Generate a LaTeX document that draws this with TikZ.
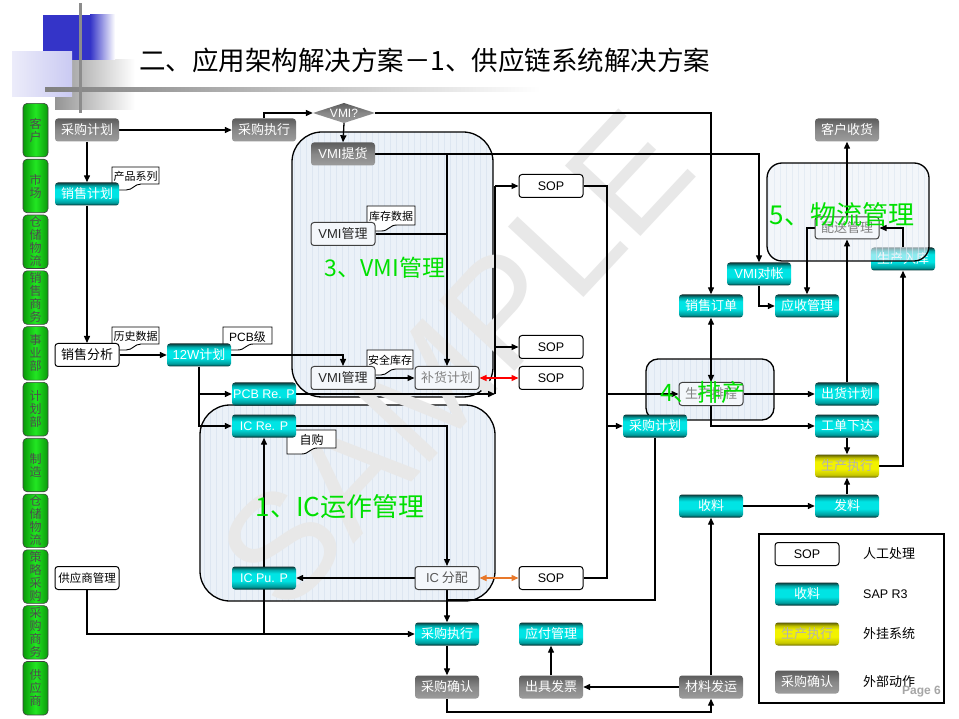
\documentclass[tikz,border=0pt]{standalone}
\usepackage{fontspec}
\setmainfont{Noto Sans CJK SC}
\newfontfamily\lat{Liberation Sans}
\usetikzlibrary{arrows.meta}
\definecolor{cyBot}{HTML}{002626}
\definecolor{cyLow}{HTML}{009C9C}
\definecolor{cyMid}{HTML}{00E4E4}
\definecolor{cyHi}{HTML}{00A8A8}
\definecolor{cyTop}{HTML}{0C3434}
\definecolor{gyBot}{HTML}{9C9C9C}
\definecolor{gyMid}{HTML}{888888}
\definecolor{gyTop}{HTML}{5C5C5C}
\definecolor{ywBot}{HTML}{6E6E00}
\definecolor{ywLow}{HTML}{C8C800}
\definecolor{ywMid}{HTML}{F2F200}
\definecolor{ywHi}{HTML}{BEBE00}
\definecolor{ywTop}{HTML}{5A5A00}
\definecolor{regfill}{HTML}{EBF1F8}
\definecolor{gridc}{HTML}{DDE6F1}
\definecolor{gtext}{HTML}{00E000}
\definecolor{hdrblue}{HTML}{3434C8}
\definecolor{lavR}{HTML}{CACAF2}
\definecolor{lavL}{HTML}{ECECFA}
\definecolor{tabmid}{HTML}{22E622}
\definecolor{tabedge}{HTML}{0A9A0A}
\definecolor{orangeA}{HTML}{E8782A}
\definecolor{ibfill}{HTML}{F4F7FB}
\pgfdeclareverticalshading{cyanS}{100bp}{color(0bp)=(cyBot); color(25bp)=(cyBot); color(31bp)=(cyLow); color(44bp)=(cyMid); color(60bp)=(cyMid); color(68bp)=(cyHi); color(75bp)=(cyTop); color(100bp)=(cyTop)}
\pgfdeclareverticalshading{grayS}{100bp}{color(0bp)=(gyBot); color(25bp)=(gyBot); color(50bp)=(gyMid); color(75bp)=(gyTop); color(100bp)=(gyTop)}
\pgfdeclareverticalshading{yelS}{100bp}{color(0bp)=(ywBot); color(25bp)=(ywBot); color(31bp)=(ywLow); color(44bp)=(ywMid); color(60bp)=(ywMid); color(68bp)=(ywHi); color(75bp)=(ywTop); color(100bp)=(ywTop)}
\pgfdeclarelayer{bgA}
\pgfdeclarelayer{bgB}
\pgfdeclarelayer{edges}
\pgfdeclarelayer{fgl}
\pgfsetlayers{bgA,bgB,edges,main,fgl}
\newcommand\regionbox[6]{%
  \begin{scope}
    \clip[rounded corners=#5] (#1,#2) rectangle (#3,#4);
    \fill[regfill,fill opacity=#6] (#1,#2) rectangle (#3,#4);
    \draw[gridc,line width=0.25pt,step=6,draw opacity=#6] (#1,#2) grid (#3,#4);
  \end{scope}
  \draw[region,rounded corners=#5] (#1,#2) rectangle (#3,#4);}
\newcommand\docnote[6]{%
  \draw[notebox] (#2,#3) -- (#4,#3) -- (#4,{#5-6}) -- ({#2+0.62*(#4-#2)},{#5-6}) .. controls ({#2+0.47*(#4-#2)},{#5-6}) and ({#2+0.45*(#4-#2)},#5) .. ({#2+0.3*(#4-#2)},#5) -- (#2,#5) -- cycle;
  \node[notetext] (#1) at ({(#2+#4)/2},{#3+(#5-#3-4)/2}) {#6};}
\begin{document}
\begin{tikzpicture}[x=1pt,y=-1pt,
  >={Triangle[length=7pt,width=6pt]},
  box/.style={rounded corners=3pt,minimum width=64,minimum height=23,inner sep=0pt,font=\fontsize{13}{15}\selectfont},
  gbox/.style={box,shade,shading=grayS,text=white},
  cbox/.style={box,shade,shading=cyanS,text=white},
  ybox/.style={box,shade,shading=yelS,text=black!30},
  sbox/.style={box,draw=black,line width=1pt,fill=white,text=black},
  ibox/.style={box,draw=black!75,line width=1pt,fill=ibfill,text=black!50},
  latf/.style={font={\lat\fontsize{12.5}{15}\selectfont}},
  conn/.style={line width=1.3pt,draw=black},
  arr/.style={conn,->},
  region/.style={draw=black,line width=1.3pt},
  tabbox/.style={rounded corners=4pt,draw=black!75,line width=0.6pt,minimum width=25,minimum height=53.5,inner sep=0pt,left color=tabedge,right color=tabedge,middle color=tabmid,font=\fontsize{12}{13}\selectfont,text=black!70,align=center},
  glabel/.style={text=gtext,inner sep=0pt},
  notebox/.style={draw=black,line width=0.9pt,fill=white},
  notetext/.style={inner sep=0pt,font=\fontsize{11}{12}\selectfont},
]
\useasboundingbox (0,0) rectangle (959,719);
% ---------------- background: header ----------------
\begin{pgfonlayer}{bgA}
  \fill[white] (0,0) rectangle (959,719);
  \shade[left color=black!42,right color=white] (55,60) rectangle (135,110);
  \fill[hdrblue] (43,15) rectangle (90,60);
  \shade[left color=hdrblue,right color=white] (90,15) rectangle (115,60);
  \shade[left color=lavL,right color=lavR] (12,52) rectangle (72,97);
  \shade[left color=black!50,right color=white] (45,88) rectangle (540,92);
  \fill[black!45] (79,3) rectangle (82,113);
  \node[cbox] (scrk) at (903,259) {生产入库};
\end{pgfonlayer}
% ---------------- regions + watermark ----------------
\begin{pgfonlayer}{bgB}
  \regionbox{292}{132}{493}{397}{30pt}{1}
  \regionbox{200}{405}{495}{601}{30pt}{1}
  \regionbox{646}{359}{774}{420}{12pt}{1}
  \regionbox{767}{163}{929}{261}{15pt}{0.6}
  \node[rotate=47,text=black!9,inner sep=0pt,font={\lat\fontsize{150}{150}\selectfont}] (wm) at (455,360) {SAMPLE};
\end{pgfonlayer}
% ---------------- title ----------------
\node[anchor=west,inner sep=0pt,font=\fontsize{26.5}{30}\selectfont] (title) at (139,60) {二、应用架构解决方案－1、供应链系统解决方案};
% ---------------- left tabs ----------------
\foreach \t [count=\i from 0] in {{客\\户},{市\\场},{仓\\储\\物\\流},{销\\售\\商\\务},{事\\业\\部},{计\\划\\部},{制\\造},{仓\\储\\物\\流},{策\\略\\采\\购},{采\\购\\商\\务},{供\\应\\商}}
  \node[tabbox] (tab\i) at (35.5,{103+55.8*\i+27.2}) {\t};
% ---------------- notes ----------------
\docnote{nt1}{112}{167}{159}{190}{产品系列}
\docnote{nt2}{367}{206}{415}{231}{库存数据}
\docnote{nt3}{112}{327}{159}{350}{历史数据}
\docnote{nt4}{223}{327}{272}{350}{{\lat\fontsize{12}{12}\selectfont PCB}{\fontsize{12}{12}\selectfont 级}}
\docnote{nt5}{367}{350}{413}{375}{安全库存}
\docnote{nt6}{287}{430}{336}{454}{{\fontsize{12}{12}\selectfont 自购}}
% ---------------- nodes ----------------
\node[gbox] (pj) at (87,130) {采购计划};
\node[gbox] (pe) at (264,130) {采购执行};
\shade[shading=grayS] (313,113) -- (344,103) -- (375,113) -- (344,123) -- cycle;
\node[minimum width=62,minimum height=20,inner sep=0pt,text=white,font={\lat\fontsize{12}{12}\selectfont}] (vmiq) at (344,113) {VMI?};
\node[gbox] (vth) at (343,154) {{\lat VMI}提货};
\node[gbox] (khsh) at (847,130) {客户收货};
\node[gbox] (cgqr) at (447,687) {采购确认};
\node[gbox] (cjfp) at (551,687) {出具发票};
\node[gbox] (clfy) at (711,687) {材料发运};
\node[cbox] (xsjh) at (87,194) {销售计划};
\node[cbox] (w12) at (199,355) {{\lat 12W}计划};
\node[cbox,latf] (pcb) at (264,394) {PCB Re. P};
\node[cbox,latf] (icre) at (264,426) {IC Re. P};
\node[cbox,latf] (icpu) at (264,578) {IC Pu. P};
\node[cbox] (cgzx) at (447,634) {采购执行};
\node[cbox] (yfgl) at (551,634) {应付管理};
\node[cbox] (xsdd) at (711,306) {销售订单};
\node[cbox] (vmidz) at (759,274) {{\lat VMI}对帐};
\node[cbox] (ysgl) at (807,306) {应收管理};
\node[cbox] (cgjh2) at (655,426) {采购计划};
\node[cbox] (chjh) at (847,394) {出货计划};
\node[cbox] (gdxd) at (847,426) {工单下达};
\node[cbox] (sl) at (711,506) {收料};
\node[cbox] (fl) at (847,506) {发料};
\node[ybox] (sczx) at (847,466) {生产执行};
\node[sbox] (xsfx) at (87,355) {销售分析};
\node[sbox,font=\fontsize{11.5}{13}\selectfont] (gysgl) at (87,578) {供应商管理};
\node[sbox,latf] (sop1) at (551,186) {SOP};
\node[sbox,latf] (sop2) at (551,347) {SOP};
\node[sbox,latf] (sop3) at (551,378) {SOP};
\node[sbox,latf] (sop4) at (551,578) {SOP};
\node[ibox,text=black!85] (vmig1) at (343,234) {{\lat VMI}管理};
\node[ibox,text=black!85] (vmig2) at (343,378) {{\lat VMI}管理};
\node[ibox] (bhjh) at (447,378) {补货计划};
\node[ibox,text=black!65] (icfp) at (447,578) {{\lat IC} 分配};
\node[ibox] (scpc) at (711,394) {生产排程};
\node[ibox,minimum height=22] (psgl) at (847,228) {配送管理};
% ---------------- legend ----------------
\node[draw=black,line width=1.2pt,minimum width=185,minimum height=169,inner sep=0pt] (legend) at (851.5,618.5) {};
\node[sbox,latf] (lg1) at (807,554) {SOP};
\node[cbox] (lg2) at (807,594) {收料};
\node[ybox] (lg3) at (807,634) {生产执行};
\node[gbox] (lg4) at (807,682) {采购确认};
\node[anchor=west,inner sep=0pt,font=\fontsize{13}{15}\selectfont] (lt1) at (863,554) {人工处理};
\node[anchor=west,inner sep=0pt,latf] (lt2) at (863,594) {SAP R3};
\node[anchor=west,inner sep=0pt,font=\fontsize{13}{15}\selectfont] (lt3) at (863,634) {外挂系统};
\node[anchor=west,inner sep=0pt,font=\fontsize{13}{15}\selectfont] (lt4) at (863,682) {外部动作};
\node[anchor=east,inner sep=0pt,text=black!35,font={\lat\bfseries\fontsize{12}{12}\selectfont}] (page) at (941,692) {Page 6};
% ---------------- junctions ----------------
\coordinate (jA) at (495,186);
\coordinate (jB) at (495,347);
\coordinate (jC) at (495,394);
\coordinate (jE) at (607,578);
\coordinate (jF) at (607,394);
\coordinate (jG) at (607,426);
\coordinate (jH) at (447,600);
\coordinate (jI) at (447,712);
% ---------------- connectors ----------------
\begin{pgfonlayer}{edges}
  \draw[arr] (pj.east) -- (pe.west);
  \draw[arr] (pj.south) -- (xsjh.north);
  \draw[arr] (xsjh.south) -- (xsfx.north);
  \draw[arr] (pe.north) |- (vmiq.west);
  \draw[arr] (vmiq.south) -- (vth.north);
  \draw[arr] (vmiq.east) -| (xsdd.north);
  \draw[arr] (vth.east) -| (vmidz.north);
  \draw[arr] (bhjh.north |- vth.east) -- (bhjh.north);
  \draw[conn] (vmig1.east) -- (vmig1.east -| bhjh.north);
  \draw[arr] (pcb.east) -- (jC);
  \draw[conn] (jC) -- (jA);
  \draw[arr] (jA) -- (sop1.west);
  \draw[arr] (jB) -- (sop2.west);
  \draw[conn] (sop1.east) -| (jE) -- (sop4.east);
  \draw[arr] (jF) -- (scpc.west);
  \draw[arr] (jG) -- (cgjh2.west);
  \draw[arr] (xsfx.east) -- (w12.west);
  \draw[arr] (w12.east) -| (vmig2.north);
  \draw[arr] (w12.south) |- (pcb.west);
  \draw[arr] (w12.south) |- (icre.west);
  \draw[arr] (vmig2.east) -- (bhjh.west);
  \draw[conn,draw=red,<->] (bhjh.east) -- (sop3.west);
  \draw[arr] (icre.east) -| (icfp.north);
  \draw[arr] (icfp.west) -- (icpu.east);
  \draw[conn,draw=orangeA,<->] (icfp.east) -- (sop4.west);
  \draw[arr] (icfp.south) -- (cgzx.north);
  \draw[conn] (cgjh2.south) |- (jH);
  \draw[arr] (gysgl.south) |- (cgzx.west);
  \draw[arr] (icre.south |- cgzx.west) -- (icre.south);
  \draw[arr] (cgzx.south) -- (cgqr.north);
  \draw[arr] (cgqr.south) -- (jI) -| (clfy.south);
  \draw[arr] (clfy.west) -- (cjfp.east);
  \draw[arr] (cjfp.north) -- (yfgl.south);
  \draw[arr] (clfy.north) -- (sl.south);
  \draw[arr] (sl.east) -- (fl.west);
  \draw[arr] (fl.north) -- (sczx.south);
  \draw[arr] (gdxd.south) -- (sczx.north);
  \draw[arr] (sczx.east) -| (scrk.south);
  \draw[arr] (scrk.north) |- (psgl.east);
  \draw[arr] (chjh.north) -- (psgl.south);
  \draw[arr] (psgl.north) -- (khsh.south);
  \draw[arr] (psgl.west) -| (ysgl.north);
  \draw[arr] (vmidz.south) |- (ysgl.west);
  \draw[conn,<->] (xsdd.south) -- (scpc.north);
  \draw[arr] (scpc.south) |- (gdxd.west);
  \draw[arr] (scpc.east) -- (chjh.west);
\end{pgfonlayer}
% ---------------- region labels ----------------
\begin{pgfonlayer}{fgl}
  \node[glabel,font=\fontsize{23}{25}\selectfont] (lab3) at (385,268) {3、VMI管理};
  \node[glabel,font=\fontsize{26}{28}\selectfont] (lab1) at (340,507) {1、IC运作管理};
  \node[glabel,font=\fontsize{24}{26}\selectfont] (lab4) at (703,392) {4、排产};
  \node[glabel,font=\fontsize{26}{28}\selectfont] (lab5) at (842,215) {5、物流管理};
\end{pgfonlayer}
\end{tikzpicture}
\end{document}
